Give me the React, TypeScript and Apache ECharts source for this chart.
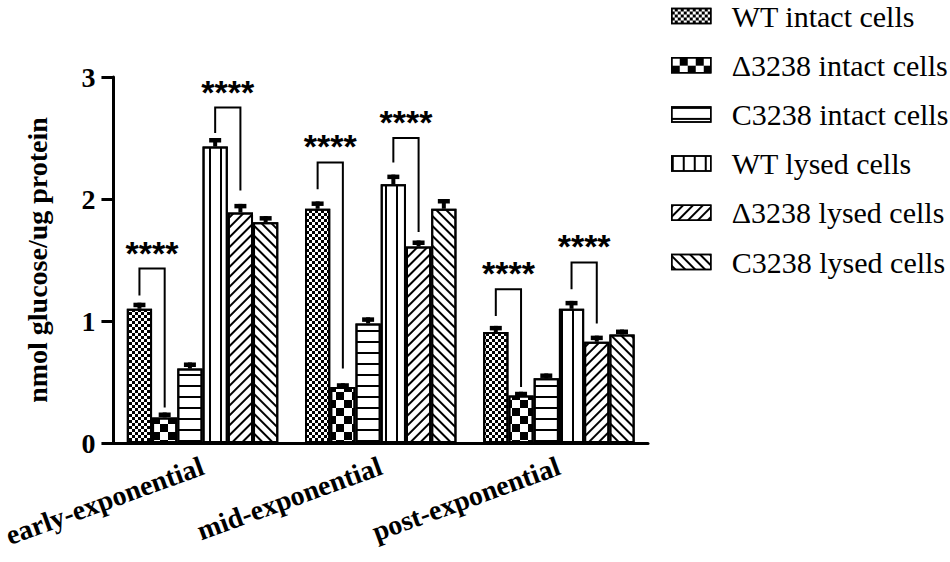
import React, { useEffect, useRef } from 'react';
import * as echarts from 'echarts';

const categories = ['early-exponential', 'mid-exponential', 'post-exponential'];
const seriesNames = [
  'WT intact cells',
  'Δ3238 intact cells',
  'C3238 intact cells',
  'WT lysed cells',
  'Δ3238 lysed cells',
  'C3238 lysed cells',
];
const wtIntact = [1.10, 1.92, 0.91];
const dIntact = [0.21, 0.46, 0.39];
const cIntact = [0.61, 0.98, 0.53];
const wtLysed = [2.43, 2.12, 1.10];
const dLysed = [1.89, 1.61, 0.83];
const cLysed = [1.81, 1.92, 0.89];

const wtIntactErr = [0.05, 0.06, 0.05];
const dIntactErr = [0.04, 0.03, 0.03];
const cIntactErr = [0.05, 0.05, 0.04];
const wtLysedErr = [0.07, 0.08, 0.065];
const dLysedErr = [0.07, 0.05, 0.05];
const cLysedErr = [0.05, 0.08, 0.04];

// significance brackets
const bracketCats = [0, 0, 1, 1, 2, 2];
const bracketFrom = [0, 3, 0, 3, 0, 3];
const bracketTo = [1, 4, 1, 4, 1, 4];
const bracketTop = [1.43, 2.75, 2.30, 2.50, 1.26, 1.48];
const bracketLeft = [1.21, 2.54, 2.08, 2.30, 1.04, 1.26];
const bracketRight = [0.29, 2.07, 0.61, 1.73, 0.46, 0.98];
const bracketLabel = '****';

const values = [wtIntact, dIntact, cIntact, wtLysed, dLysed, cLysed];
const errors = [wtIntactErr, dIntactErr, cIntactErr, wtLysedErr, dLysedErr, cLysedErr];

const GAP = 0.15;
const N = 6;

const decals: any[] = [
  { symbol: 'rect', symbolSize: 1, color: '#000', dashArrayX: [[3, 3], [0, 3, 3, 0]], dashArrayY: [3, 0] },
  { symbol: 'rect', symbolSize: 1, color: '#000', dashArrayX: [[8, 8], [0, 8, 8, 0]], dashArrayY: [8, 0] },
  { symbol: 'rect', symbolSize: 1, color: '#000', dashArrayX: [1, 0], dashArrayY: [2, 9] },
  { symbol: 'rect', symbolSize: 1, color: '#000', dashArrayX: [2, 8.5], dashArrayY: [1, 0] },
  { symbol: 'rect', symbolSize: 1, color: '#000', dashArrayX: [1, 0], dashArrayY: [1.7, 4.3], rotation: -Math.PI / 4 },
  { symbol: 'rect', symbolSize: 1, color: '#000', dashArrayX: [1, 0], dashArrayY: [1.7, 4.3], rotation: Math.PI / 4 },
];

const serif = 'Liberation Serif';

function barX(api: any, cat: number, si: number, v: number) {
  const band = api.size([1, 0])[0];
  const inner = band * (1 - GAP);
  const bw = inner / N;
  const c = api.coord([cat, v]);
  return { x: c[0] - inner / 2 + (si + 0.5) * bw, y: c[1] };
}

export default function App() {
  const ref = useRef<HTMLDivElement>(null);
  useEffect(() => {
    if (!ref.current) return;
    const chart = echarts.init(ref.current, undefined, { renderer: 'svg' });

    const errData: number[][] = [];
    values.forEach((arr, si) => arr.forEach((v, ci) => errData.push([ci, si, v, errors[si][ci]])));
    const brData: number[][] = bracketCats.map((c, i) => [c, bracketFrom[i], bracketTo[i], bracketTop[i], bracketLeft[i], bracketRight[i]]);

    const barSeries = seriesNames.map((name, si) => ({
      type: 'bar',
      name,
      data: values[si],
      barGap: '0%',
      barCategoryGap: '15%',
      itemStyle: { color: '#fff', borderColor: '#000', borderWidth: 2, decal: decals[si] },
      emphasis: { disabled: true },
    }));

    chart.setOption({
      animation: false,
      backgroundColor: '#fff',
      grid: { left: 108, right: 302, top: 77, bottom: 119 },
      legend: {
        orient: 'vertical',
        left: 666,
        top: -4,
        itemWidth: 39,
        itemHeight: 15,
        itemGap: 19.2,
        icon: 'rect',
        selectedMode: false,
        data: seriesNames,
        itemStyle: { borderColor: '#000', borderWidth: 1.5 },
        textStyle: { fontFamily: serif, fontSize: 30, color: '#000', padding: [0, 0, 0, 16] },
      },
      xAxis: {
        type: 'category',
        data: categories,
        axisLine: { lineStyle: { color: '#000', width: 3 } },
        axisTick: { alignWithLabel: true, length: 10, lineStyle: { color: '#000', width: 3 } },
        axisLabel: {
          rotate: 20,
          margin: 22,
          color: '#000',
          fontFamily: serif,
          fontSize: 28,
          fontWeight: 'bold',
        },
      },
      yAxis: {
        type: 'value',
        min: 0,
        max: 3,
        interval: 1,
        name: 'nmol glucose/ug protein',
        nameLocation: 'middle',
        nameGap: 62,
        nameRotate: 90,
        nameTextStyle: { fontFamily: serif, fontSize: 28, fontWeight: 'bold', color: '#000' },
        axisLine: { show: true, lineStyle: { color: '#000', width: 3 } },
        axisTick: { show: true, length: 12, lineStyle: { color: '#000', width: 3 } },
        splitLine: { show: false },
        axisLabel: { margin: 18, color: '#000', fontFamily: serif, fontSize: 28, fontWeight: 'bold' },
      },
      series: [
        ...barSeries,
        {
          type: 'custom',
          name: 'err',
          z: 5,
          silent: true,
          data: errData,
          encode: { x: 0, y: 2 },
          renderItem: (params: any, api: any) => {
            const cat = api.value(0);
            const si = api.value(1);
            const v = api.value(2);
            const e = api.value(3);
            const p = barX(api, cat, si, v);
            const top = api.coord([cat, v + e])[1];
            return {
              type: 'group',
              children: [
                { type: 'rect', shape: { x: p.x - 2, y: top, width: 4, height: p.y - top }, style: { fill: '#000' } },
                { type: 'rect', shape: { x: p.x - 6, y: top, width: 12, height: 4.5 }, style: { fill: '#000' } },
              ],
            };
          },
        },
        {
          type: 'custom',
          name: 'sig',
          z: 5,
          silent: true,
          data: brData,
          encode: { x: 0, y: 3 },
          renderItem: (params: any, api: any) => {
            const cat = api.value(0);
            const a = barX(api, cat, api.value(1), api.value(3));
            const b = barX(api, cat, api.value(2), api.value(3));
            const yl = api.coord([cat, api.value(4)])[1];
            const yr = api.coord([cat, api.value(5)])[1];
            return {
              type: 'group',
              children: [
                {
                  type: 'polyline',
                  shape: { points: [[a.x, yl], [a.x, a.y], [b.x, a.y], [b.x, yr]] },
                  style: { stroke: '#000', lineWidth: 2, fill: 'none' },
                },
                {
                  type: 'text',
                  style: {
                    text: bracketLabel,
                    x: (a.x + b.x) / 2,
                    y: a.y - 16,
                    align: 'center',
                    verticalAlign: 'middle',
                    fontFamily: 'Liberation Sans',
                    fontSize: 34,
                    fontWeight: 'bold',
                    fill: '#000',
                  },
                },
              ],
            };
          },
        },
      ],
    });
    return () => chart.dispose();
  }, []);
  return <div ref={ref} style={{ position: 'fixed', left: 0, top: 0, width: 950, height: 562 }} />;
}
